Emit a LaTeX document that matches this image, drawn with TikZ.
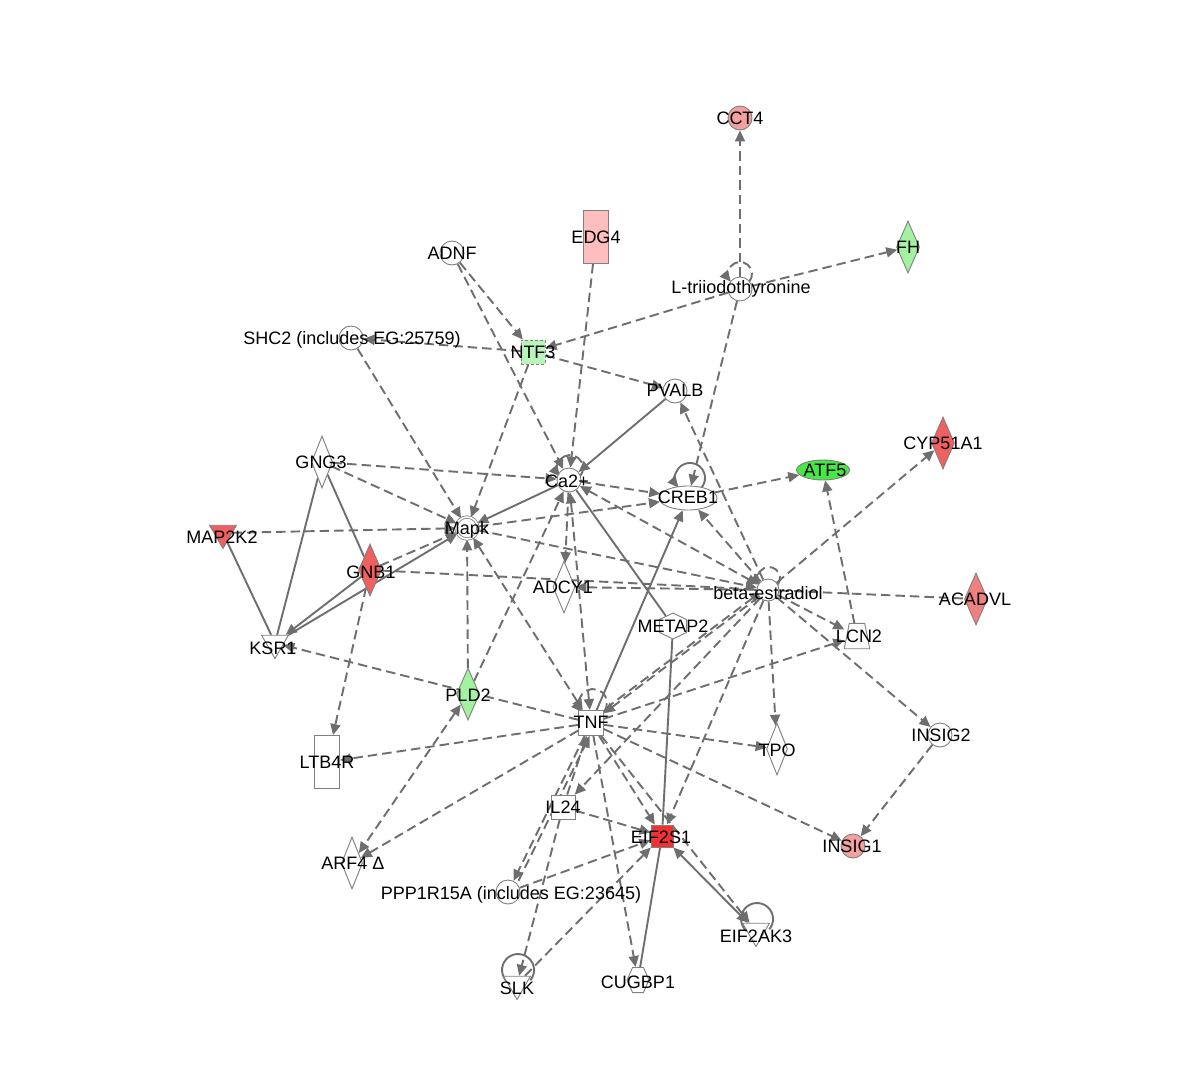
\documentclass[tikz,border=0pt]{standalone}
\usepackage{fontspec}
\setmainfont{Liberation Sans}
\usetikzlibrary{shapes.geometric,arrows.meta,calc}
\pgfdeclarelayer{back}
\pgfdeclarelayer{bg}
\pgfsetlayers{back,bg,main}
\definecolor{lc}{RGB}{110,110,110}
\definecolor{bc}{RGB}{128,128,128}
\definecolor{cpink}{RGB}{242,160,160}
\definecolor{cpinkl}{RGB}{255,190,190}
\definecolor{cgreenl}{RGB}{162,242,162}
\definecolor{cgreenn}{RGB}{185,245,185}
\definecolor{cred}{RGB}{240,96,96}
\definecolor{cgreen}{RGB}{70,232,70}
\definecolor{csalmon}{RGB}{240,128,128}
\definecolor{cdred}{RGB}{242,50,50}
\begin{document}
\begin{tikzpicture}[x=1pt,y=1pt,
  nd/.style={draw=bc,line width=0.9pt,inner sep=0pt,fill=white},
  circ/.style={nd,circle,minimum size=24pt},
  dia/.style={nd,diamond,minimum width=23pt,minimum height=52pt},
  sq/.style={nd,rectangle,minimum width=24pt,minimum height=24pt},
  tall/.style={nd,rectangle,minimum width=25pt,minimum height=53pt},
  tri/.style={nd,regular polygon,regular polygon sides=3,shape border rotate=180,minimum size=31pt},
  lbl/.style={inner sep=0pt,text height=13pt,text depth=0pt,font=\fontsize{18}{20}\selectfont},
  ln/.style={draw=lc,line width=1.9pt},
  dl/.style={ln,dash pattern=on 9.5pt off 5pt},
  tip/.tip={Triangle[length=11pt,width=10pt]},
  da/.style={dl,-tip},
  dab/.style={dl,tip-tip},
  sl/.style={ln},
  sa/.style={ln,-tip},
  sab/.style={ln,tip-tip}]
\begin{pgfonlayer}{back}
\fill[white] (0,0) rectangle (1200,-1074);
\end{pgfonlayer}
\useasboundingbox (0,0) rectangle (1200,-1074);
% nodes
\node[circ,fill=cpink] (cct4) at (740,-118) {};
\node[tall,fill=cpinkl] (edg4) at (596,-237) {};
\node[dia,fill=cgreenl] (fh) at (908,-247) {};
\node[circ] (adnf) at (452,-253) {};
\node[circ] (ltri) at (740,-289) {};
\node[circ] (shc2) at (351,-338) {};
\node[sq,fill=cgreenn,dash pattern=on 3pt off 2pt] (ntf3) at (533,-352) {};
\node[circ] (pvalb) at (675,-391) {};
\node[dia,minimum width=21pt] (gng3) at (322,-462) {};
\node[dia,fill=cred] (cyp) at (943,-443) {};
\node[circ] (ca) at (569,-480) {};
\node[nd,ellipse,fill=cgreen,minimum width=53pt,minimum height=20pt] (atf5) at (823,-470) {};
\node[nd,ellipse,minimum width=58pt,minimum height=24pt] (creb) at (688,-498) {};
\node[tri,fill=cred] (map2k2) at (223,-533) {};
\node[nd,circle,minimum size=22pt,double=white,double distance=1.6pt,line width=0.8pt] (mapk) at (467,-528) {};
\node[dia,fill=cred] (gnb1) at (370,-570) {};
\node[dia,minimum width=22pt] (adcy1) at (564,-587) {};
\node[circ,minimum size=22pt] (best) at (768,-590) {};
\node[dia,fill=csalmon] (acadvl) at (976,-599) {};
\node[nd,regular polygon,regular polygon sides=6,shape border rotate=30,minimum size=26pt,xscale=1.2] (metap2) at (673,-626) {};
\node[inner sep=0pt,minimum width=25pt,minimum height=25pt] (lcn2) at (857,-636) {};
\filldraw[draw=bc,line width=0.9pt,fill=white] (lcn2.south west) -- (lcn2.south east) -- ($(lcn2.north east)+(-5,0)$) -- ($(lcn2.north west)+(5,0)$) -- cycle;
\node[tri] (ksr1) at (275,-643) {};
\node[dia,fill=cgreenl] (pld2) at (468,-694) {};
\node[sq,minimum width=25pt,minimum height=25pt] (tnf) at (591,-723) {};
\node[tall] (ltb4r) at (327,-762) {};
\node[dia,minimum width=21pt] (tpo) at (777,-749) {};
\node[circ] (insig2) at (940,-735) {};
\node[sq] (il24) at (563,-807) {};
\node[sq,fill=cdred,minimum width=22pt,minimum height=22pt] (eif2s1) at (662,-836) {};
\node[circ,fill=cpink] (insig1) at (853,-846) {};
\node[dia,minimum width=21pt] (arf4) at (352,-863) {};
\node[circ] (ppp) at (508,-892) {};
\node[tri] (eif2ak3) at (756,-931) {};
\node[tri] (slk) at (517,-984) {};
\node[nd,regular polygon,regular polygon sides=6,minimum size=29pt,xscale=0.75] (cugbp1) at (638,-980) {};
% connectors
\begin{pgfonlayer}{bg}
\draw[da] (ltri) -- (cct4);
\draw[da] (ltri) -- (fh);
\draw[da] (ltri) -- (ntf3);
\draw[da] (ltri) -- (creb);
\draw[da] (adnf) -- (ntf3);
\draw[da] (adnf) -- (ca);
\draw[da] (ntf3) -- (shc2);
\draw[da] (ntf3) -- (pvalb);
\draw[da] (ntf3) -- (mapk);
\draw[da] (shc2) -- (mapk);
\draw[da] (edg4) -- (ca);
\draw[da] (best) -- (pvalb);
\draw[da] (gng3) -- (ca);
\draw[da] (gng3) -- (mapk);
\draw[da] (map2k2) -- (mapk);
\draw[da] (gnb1) -- (mapk);
\draw[da] (gnb1) -- (ltb4r);
\draw[dl] (gnb1) -- (best);
\draw[da] (mapk) -- (best);
\draw[da] (mapk) -- (creb);
\draw[da] (ca) -- (creb);
\draw[dab] (ca) -- (best);
\draw[da] (pld2) -- (mapk);
\draw[da] (pld2) -- (ca);
\draw[dab] (mapk) -- (tnf);
\draw[dab] (ca) -- (tnf);
\draw[da] (ca) -- (adcy1);
\draw[da] (best) -- (adcy1);
\draw[da] (best) -- (creb);
\draw[da] (best) -- (cyp);
\draw[dl] (best) -- (acadvl);
\draw[da] (best) -- (lcn2);
\draw[da] (best) -- (insig2);
\draw[da] (best) -- (tpo);
\draw[da] (best) -- (tnf);
\draw[da,transform canvas={shift={(2pt,5pt)}}] (tnf) -- (best);
\draw[da] (best) -- (eif2s1);
\draw[da] (best) -- (il24);
\draw[da] (tnf) -- (ksr1);
\draw[da] (tnf) -- (ltb4r);
\draw[da] (tnf) -- (arf4);
\draw[dab] (pld2) -- (arf4);
\draw[da] (tnf) -- (lcn2);
\draw[da] (tnf) -- (tpo);
\draw[da] (tnf) -- (insig1);
\draw[da] (insig2) -- (insig1);
\draw[da] (lcn2) -- (atf5);
\draw[da] (creb) -- (atf5);
\draw[da] (il24) -- (tnf);
\draw[da] (tnf) -- (ppp);
\draw[da,transform canvas={xshift=5pt}] (ppp) -- (tnf);
\draw[da] (tnf) -- (eif2s1);
\draw[da] (tnf) -- (eif2ak3);
\draw[da] (tnf) -- (cugbp1);
\draw[da] (il24) -- (eif2s1);
\draw[da] (il24) -- (slk);
\draw[da] (ppp) -- (eif2s1);
\draw[da] (slk) -- (eif2s1);
\draw[sa] (pvalb) -- (ca);
\draw[sa] (ca) -- (mapk);
\draw[sl] (gng3) -- (ksr1);
\draw[sl] (gng3) -- (gnb1);
\draw[sl] (map2k2) -- (ksr1);
\draw[sa] (gnb1) -- (ksr1);
\draw[sa] (ksr1) -- (mapk);
\draw[sl] (ca) -- (metap2);
\draw[sa] (tnf) -- (creb);
\draw[sl] (metap2) -- (eif2s1);
\draw[sl] (eif2s1) -- (cugbp1);
\draw[sab] (eif2ak3) -- (eif2s1);
% self loops
\draw[da] ($(ltri)+(9.2,7.3)$) arc[start angle=-40,end angle=220,radius=12];
\draw[da] ($(ca)+(11,3.6)$) arc[start angle=-40,end angle=220,radius=13];
\draw[sa] ($(creb)+(13.5,10.4)$) arc[start angle=-40,end angle=220,radius=15];
\draw[da] ($(tnf)+(12.7,11)$) arc[start angle=-40,end angle=220,radius=14];
\draw[da] ($(best)+(9.4,4.9)$) arc[start angle=-40,end angle=220,radius=11];
\draw[sl] ($(eif2ak3)+(13.3,1.7)$) arc[start angle=-40,end angle=230,radius=16];
\draw[sl] ($(slk)+(13.3,3.7)$) arc[start angle=-40,end angle=230,radius=16];
\end{pgfonlayer}
% labels
\node[lbl] (cct4-l) at (740,-118) {CCT4};
\node[lbl] (edg4-l) at (596,-237) {EDG4};
\node[lbl] (fh-l) at (908,-247) {FH};
\node[lbl] (adnf-l) at (452,-253) {ADNF};
\node[lbl] (ltri-l) at (741,-287) {L-triiodothyronine};
\node[lbl] (shc2-l) at (352,-338) {SHC2 (includes EG:25759)};
\node[lbl] (ntf3-l) at (533,-352) {NTF3};
\node[lbl] (pvalb-l) at (675,-390) {PVALB};
\node[lbl] (gng3-l) at (321,-462) {GNG3};
\node[lbl] (cyp-l) at (943,-443) {CYP51A1};
\node[lbl] (ca-l) at (567,-481) {Ca2+};
\node[lbl] (atf5-l) at (825,-470) {ATF5};
\node[lbl] (creb-l) at (688,-497) {CREB1};
\node[lbl] (map2k2-l) at (222,-537) {MAP2K2};
\node[lbl] (mapk-l) at (467,-528) {Mapk};
\node[lbl] (gnb1-l) at (371,-572) {GNB1};
\node[lbl] (adcy1-l) at (563,-587) {ADCY1};
\node[lbl] (best-l) at (768,-593) {beta-estradiol};
\node[lbl] (acadvl-l) at (975,-599) {ACADVL};
\node[lbl] (metap2-l) at (673,-626) {METAP2};
\node[lbl] (lcn2-l) at (859,-636) {LCN2};
\node[lbl] (ksr1-l) at (273,-648) {KSR1};
\node[lbl] (pld2-l) at (468,-695) {PLD2};
\node[lbl] (tnf-l) at (591,-722) {TNF};
\node[lbl] (ltb4r-l) at (327,-762) {LTB4R};
\node[lbl] (tpo-l) at (777,-750) {TPO};
\node[lbl] (insig2-l) at (941,-735) {INSIG2};
\node[lbl] (il24-l) at (563,-807) {IL24};
\node[lbl] (eif2s1-l) at (661,-837) {EIF2S1};
\node[lbl] (insig1-l) at (852,-846) {INSIG1};
\node[lbl] (arf4-l) at (353,-863) {ARF4 Δ};
\node[lbl] (ppp-l) at (511,-893) {PPP1R15A (includes EG:23645)};
\node[lbl] (eif2ak3-l) at (756,-936) {EIF2AK3};
\node[lbl] (slk-l) at (517,-988) {SLK};
\node[lbl] (cugbp1-l) at (638,-982) {CUGBP1};
\end{tikzpicture}
\end{document}
